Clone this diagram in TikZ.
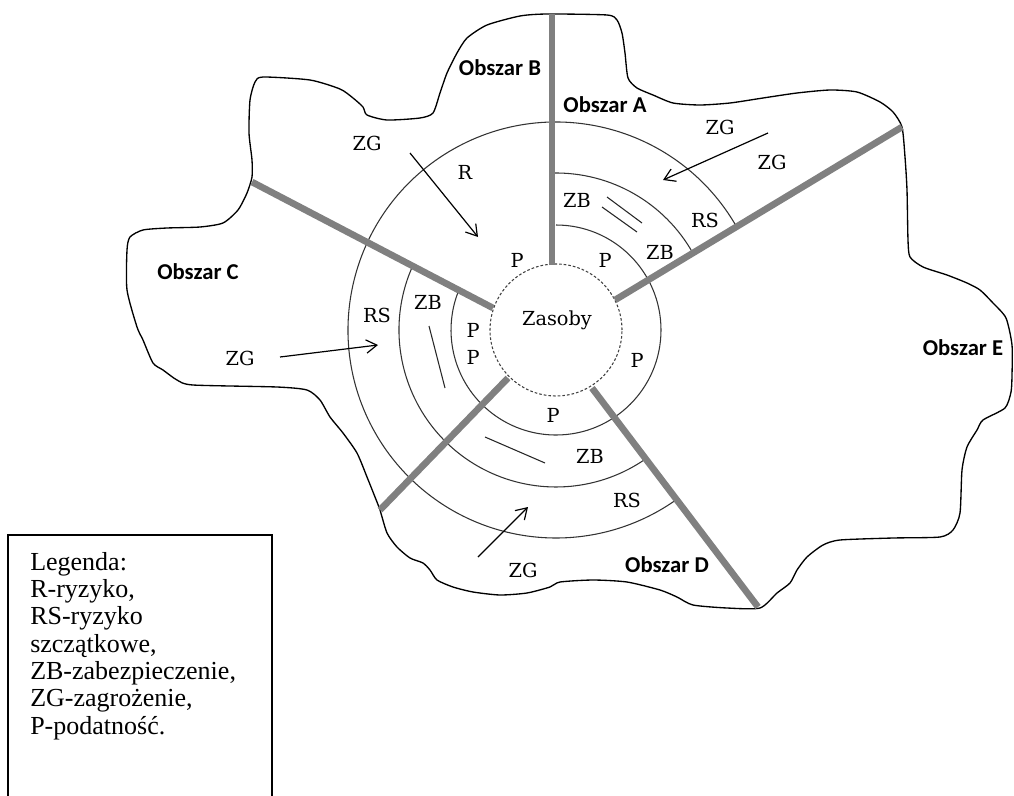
\documentclass[tikz,border=0pt]{standalone}
\usepackage{fontspec}
\setmainfont{Liberation Serif}
\newfontfamily\tagfont{DejaVu Serif}
\newfontfamily\areafont{Carlito}
\usetikzlibrary{arrows.meta}

\begin{document}
\begin{tikzpicture}[x=0.75pt,y=0.75pt,
        ring/.style={draw=black!80,line width=0.8pt},
        divider/.style={draw=black!50,line width=5pt},
        threat/.style={-{Straight Barb[length=8pt,width=10pt]},line width=0.9pt},
        hatch/.style={draw=black!85,line width=0.8pt},
        tag/.style={font=\tagfont\fontsize{14.5}{15}\selectfont,inner sep=0pt},
        area/.style={font=\areafont\bfseries\fontsize{17}{18}\selectfont,inner sep=0pt}]
    \useasboundingbox (0,0) rectangle (1014,-796);
    \coordinate (O) at (556,-330);

    % obrys obszarow
    \draw[line width=1pt] plot[smooth cycle,tension=0.4] coordinates {
        (547,-14) (607,-15) (617,-20) (622,-33) (625,-53) (628,-78) (637,-88) (653,-95)
        (673,-103) (700,-105) (730,-103) (763,-98) (797,-93) (830,-90) (857,-92) (880,-102)
        (893,-112) (902,-127) (905,-157) (907,-190) (908,-240) (910,-257) (923,-267) (947,-275)
        (967,-283) (980,-290) (993,-303) (1006,-318) (1012,-345) (1012,-375) (1011,-392) (1005,-408)
        (983,-420) (977,-430) (967,-447) (962,-470) (960,-513) (953,-530) (940,-537) (893,-538)
        (840,-540) (823,-545) (807,-557) (797,-570) (790,-583) (777,-593) (760,-608) (727,-608)
        (693,-605) (677,-597) (660,-590) (627,-582) (593,-580) (560,-582) (550,-587) (527,-593)
        (500,-595) (473,-592) (453,-587) (437,-580) (430,-570) (423,-563) (410,-558) (397,-547)
        (387,-533) (380,-510) (375,-497) (367,-477) (357,-453) (343,-433) (330,-417) (320,-400)
        (307,-390) (277,-387) (193,-385) (177,-380) (163,-370) (153,-363) (143,-340) (137,-327)
        (127,-290) (127,-250) (130,-237) (143,-230) (167,-228) (200,-227) (223,-223) (238,-210)
        (247,-193) (252,-177) (252,-160) (249,-133) (250,-100) (255,-82) (263,-77) (310,-80)
        (340,-89) (353,-98) (363,-107) (367,-115) (387,-120) (420,-118) (433,-113) (440,-93)
        (447,-73) (457,-53) (467,-38) (487,-25) (520,-16)};

    % pierscienie
    \draw[ring] (O) ++(90:105) arc[start angle=90,end angle=-202.3,radius=105];
    \draw[ring] (O) ++(29.3:157) arc[start angle=29.3,end angle=91,radius=157];
    \draw[ring] (O) ++(155.9:157) arc[start angle=155.9,end angle=304.8,radius=157];
    \draw[ring] (O) ++(29.8:208) arc[start angle=29.8,end angle=305.4,radius=208];
    \draw[black!75,line width=0.8pt,dash pattern=on 2pt off 1.5pt] (O) circle[radius=66];

    % granice obszarow
    \coordinate (bIn) at (552,-265);  \coordinate (bOut) at (552,-14);
    \coordinate (aeIn) at (615,-300); \coordinate (aeOut) at (902,-127);
    \coordinate (cbIn) at (493,-308); \coordinate (cbOut) at (252,-182);
    \coordinate (cdIn) at (508,-378); \coordinate (cdOut) at (380,-510);
    \coordinate (deIn) at (592,-388); \coordinate (deOut) at (758,-607);
    \draw[divider] (bIn) -- (bOut);
    \draw[divider] (aeIn) -- (aeOut);
    \draw[divider] (cbIn) -- (cbOut);
    \draw[divider] (cdIn) -- (cdOut);
    \draw[divider] (deIn) -- (deOut);

    % zabezpieczenia
    \draw[hatch] (607,-197) -- (642,-223);
    \draw[hatch] (602,-207) -- (637,-232);
    \draw[hatch] (429,-326) -- (445,-388);
    \draw[hatch] (485,-437) -- (545,-463);

    \node[tag] (zas) at (557,-320) {Zasoby};
    % obszar B
    \node[tag] (zgB) at (367,-143) {ZG};
    \node[tag] (r) at (465,-172) {R};
    \node[tag] (pB) at (517,-260) {P};
    % obszar A
    \node[tag] (zgA1) at (720,-127) {ZG};
    \node[tag] (zgA2) at (772,-162) {ZG};
    \node[tag] (zbA1) at (577,-200) {ZB};
    \node[tag] (zbA2) at (660,-252) {ZB};
    \node[tag] (rsA) at (705,-220) {RS};
    \node[tag] (pA) at (605,-260) {P};
    % obszar C
    \node[tag] (zgC) at (240,-358) {ZG};
    \node[tag] (rsC) at (377,-315) {RS};
    \node[tag] (zbC) at (428,-302) {ZB};
    \node[tag] (pC1) at (473,-330) {P};
    \node[tag] (pC2) at (473,-357) {P};
    % obszar E
    \node[tag] (pE) at (637,-360) {P};
    % obszar D
    \node[tag] (pD) at (553,-415) {P};
    \node[tag] (zbD) at (590,-456) {ZB};
    \node[tag] (rsD) at (627,-500) {RS};
    \node[tag] (zgD) at (523,-570) {ZG};

    \coordinate (tA0) at (768,-133); \coordinate (tA1) at (663,-180);
    \coordinate (tB0) at (410,-153); \coordinate (tB1) at (478,-237);
    \coordinate (tC0) at (280,-357); \coordinate (tC1) at (378,-345);
    \coordinate (tD0) at (478,-557); \coordinate (tD1) at (528,-507);
    \draw[threat] (tA0) -- (tA1);
    \draw[threat] (tB0) -- (tB1);
    \draw[threat] (tC0) -- (tC1);
    \draw[threat] (tD0) -- (tD1);

    \node[area] (obA) at (605,-105) {Obszar A};
    \node[area] (obB) at (500,-68) {Obszar B};
    \node[area] (obC) at (198,-272) {Obszar C};
    \node[area] (obD) at (667,-565) {Obszar D};
    \node[area] (obE) at (963,-348) {Obszar E};

    % legenda
    \draw[line width=1pt] (8,-796) -- (8,-535) -- (272,-535) -- (272,-796);
    \node[anchor=north west,align=left,inner sep=0pt,
          font=\fontsize{19.5}{20.5}\selectfont] (leg) at (30,-552)
        {Legenda:\\R-ryzyko,\\RS-ryzyko\\szczątkowe,\\ZB-zabezpieczenie,\\ZG-zagrożenie,\\P-podatność.};
\end{tikzpicture}
\end{document}
